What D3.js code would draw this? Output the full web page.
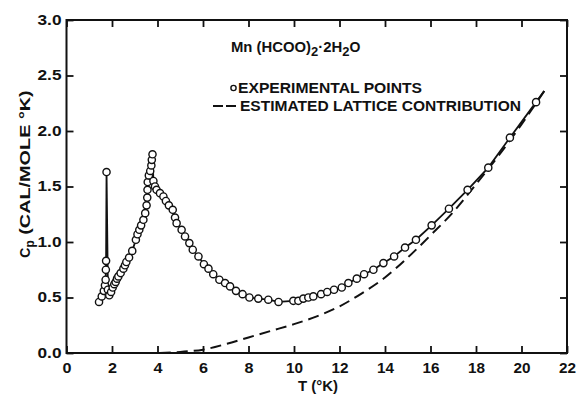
<!DOCTYPE html>
<html><head><meta charset="utf-8">
<script src="https://cdn.jsdelivr.net/npm/d3@7"></script>
<style>
body{margin:0;background:#fff;}
text{font-family:"Liberation Sans",Arial,sans-serif;font-weight:bold;fill:#111;}
</style></head>
<body>
<svg id="c" width="578" height="396"></svg>
<script>
const expT = [1.43,1.55,1.64,1.69,1.72,1.73,1.74,1.76,1.82,1.88,1.96,2.03,2.10,2.16,2.22,2.28,2.38,2.50,2.57,2.63,2.75,2.89,3.05,3.12,3.20,3.28,3.38,3.46,3.52,3.55,3.56,3.57,3.62,3.68,3.73,3.75,3.78,3.82,3.89,3.96,4.11,4.26,4.37,4.50,4.67,4.77,4.84,5.06,5.21,5.40,5.55,5.80,6.04,6.24,6.45,6.72,6.97,7.19,7.45,7.74,8.04,8.43,8.87,9.32,9.97,10.19,10.41,10.63,10.85,11.19,11.46,11.76,12.10,12.39,12.76,13.08,13.49,13.93,14.40,14.88,15.36,16.05,16.81,17.63,18.54,19.49,20.64];
const expCp = [0.46,0.51,0.56,0.61,0.66,0.75,0.83,1.63,0.57,0.52,0.55,0.59,0.62,0.64,0.67,0.69,0.72,0.76,0.79,0.82,0.86,0.92,1.02,1.07,1.11,1.15,1.20,1.26,1.33,1.40,1.47,1.54,1.60,1.64,1.69,1.74,1.79,1.55,1.50,1.47,1.44,1.41,1.37,1.33,1.29,1.22,1.17,1.11,1.05,0.99,0.93,0.87,0.80,0.76,0.71,0.66,0.63,0.60,0.56,0.53,0.50,0.49,0.48,0.46,0.47,0.47,0.49,0.50,0.51,0.53,0.55,0.57,0.59,0.63,0.67,0.71,0.75,0.81,0.87,0.95,1.02,1.15,1.30,1.47,1.67,1.94,2.26];
// solid curve continues slightly past the last measured point
const curveEndT = [21.0];
const curveEndCp = [2.36];
const latT = [4.1,5,6,7,8,9,10,11,12,13,14,15,16,17,18,19,20,21];
const latCp = [0.0,0.01,0.03,0.08,0.14,0.20,0.26,0.33,0.42,0.54,0.68,0.86,1.06,1.27,1.52,1.78,2.06,2.36];
const xTicks = [0,2,4,6,8,10,12,14,16,18,20,22];
const yTicks = [0,0.5,1.0,1.5,2.0,2.5,3.0];
const titleText = ["Mn (HCOO)","2","·2H","2","O"];
const legendLabels = ["EXPERIMENTAL POINTS","ESTIMATED LATTICE CONTRIBUTION"];

const svg = d3.select("#c");
const x = d3.scaleLinear().domain([0,22]).range([66.5,567]);
const y = d3.scaleLinear().domain([0,3]).range([353,20]);

// frame
svg.append("rect").attr("x",x(0)).attr("y",y(3)).attr("width",x(22)-x(0)).attr("height",y(0)-y(3))
  .attr("fill","none").attr("stroke","#111").attr("stroke-width",2);

// axes with inward ticks
const tl = 7;
const gBottom = svg.append("g").attr("transform",`translate(0,${y(0)})`)
  .call(d3.axisBottom(x).tickValues(xTicks).tickSize(-tl).tickPadding(10).tickFormat(d3.format("d")));
const gTop = svg.append("g").attr("transform",`translate(0,${y(3)})`)
  .call(d3.axisTop(x).tickValues(xTicks).tickSize(-tl).tickFormat(""));
const gLeft = svg.append("g").attr("transform",`translate(${x(0)},0)`)
  .call(d3.axisLeft(y).tickValues(yTicks).tickSize(-tl).tickPadding(5).tickFormat(d3.format(".1f")));
const gRight = svg.append("g").attr("transform",`translate(${x(22)},0)`)
  .call(d3.axisRight(y).tickValues(yTicks).tickSize(-tl).tickFormat(""));
[gBottom,gTop,gLeft,gRight].forEach(g=>{
  g.select(".domain").remove();
  g.selectAll(".tick line").attr("stroke","#111").attr("stroke-width",1.8);
  g.selectAll("text").attr("font-family","Liberation Sans, Arial, sans-serif").attr("font-weight","bold").attr("font-size",14.5).attr("fill","#111");
});
gLeft.selectAll("text").attr("textLength",24).attr("lengthAdjust","spacingAndGlyphs").attr("dy","0.3em");
gBottom.selectAll("text").each(function(){
  const s = d3.select(this); const n = s.text().length;
  s.attr("textLength", n===1 ? 9 : 17).attr("lengthAdjust","spacingAndGlyphs");
});

// axis titles
svg.append("text").attr("x",318).attr("y",391).attr("text-anchor","middle").attr("font-size",14)
  .attr("textLength",40).attr("lengthAdjust","spacingAndGlyphs").text("T (°K)");
const yl = svg.append("text").attr("transform",`translate(30,174) rotate(-90)`).attr("text-anchor","middle").attr("font-size",14);
yl.append("tspan").text("C");
yl.append("tspan").attr("dy",4).attr("font-size",12).text("p");
yl.append("tspan").attr("dy",-4).attr("textLength",150).attr("lengthAdjust","spacingAndGlyphs").text(" (CAL/MOLE  °K)");

// lattice dashed curve
const latData = latT.map((t,i)=>[t,latCp[i]]);
svg.append("path").datum(latData)
  .attr("d",d3.line().x(d=>x(d[0])).y(d=>y(d[1])).curve(d3.curveMonotoneX))
  .attr("fill","none").attr("stroke","#111").attr("stroke-width",2).attr("stroke-dasharray","11,6");

// experimental line
const expData = expT.map((t,i)=>[t,expCp[i]]);
const lineData = expData.concat(curveEndT.map((t,i)=>[t,curveEndCp[i]]));
svg.append("path").datum(lineData)
  .attr("d",d3.line().x(d=>x(d[0])).y(d=>y(d[1])))
  .attr("fill","none").attr("stroke","#111").attr("stroke-width",1.8);

svg.append("g").selectAll("circle").data(expData).join("circle")
  .attr("cx",d=>x(d[0])).attr("cy",d=>y(d[1])).attr("r",3.6)
  .attr("fill","#fff").attr("stroke","#111").attr("stroke-width",1.4);

// title
const tt = svg.append("text").attr("x",231).attr("y",52).attr("font-size",14);
tt.append("tspan").attr("textLength",80).attr("lengthAdjust","spacingAndGlyphs").text(titleText[0]);
tt.append("tspan").attr("dy",4).attr("font-size",13).text(titleText[1]);
tt.append("tspan").attr("dy",-4).attr("textLength",24).attr("lengthAdjust","spacingAndGlyphs").text(titleText[2]);
tt.append("tspan").attr("dy",4).attr("font-size",13).text(titleText[3]);
tt.append("tspan").attr("dy",-4).text(titleText[4]);

// legend
svg.append("circle").attr("cx",233.5).attr("cy",88).attr("r",2.6).attr("fill","#fff").attr("stroke","#111").attr("stroke-width",1.4);
svg.append("text").attr("x",238).attr("y",93).attr("font-size",14)
  .attr("textLength",184).attr("lengthAdjust","spacingAndGlyphs").text(legendLabels[0]);
svg.append("line").attr("x1",213).attr("x2",237).attr("y1",106).attr("y2",106)
  .attr("stroke","#111").attr("stroke-width",2).attr("stroke-dasharray","10,3");
svg.append("text").attr("x",240).attr("y",111).attr("font-size",14)
  .attr("textLength",281).attr("lengthAdjust","spacingAndGlyphs").text(legendLabels[1]);
</script>
</body></html>
